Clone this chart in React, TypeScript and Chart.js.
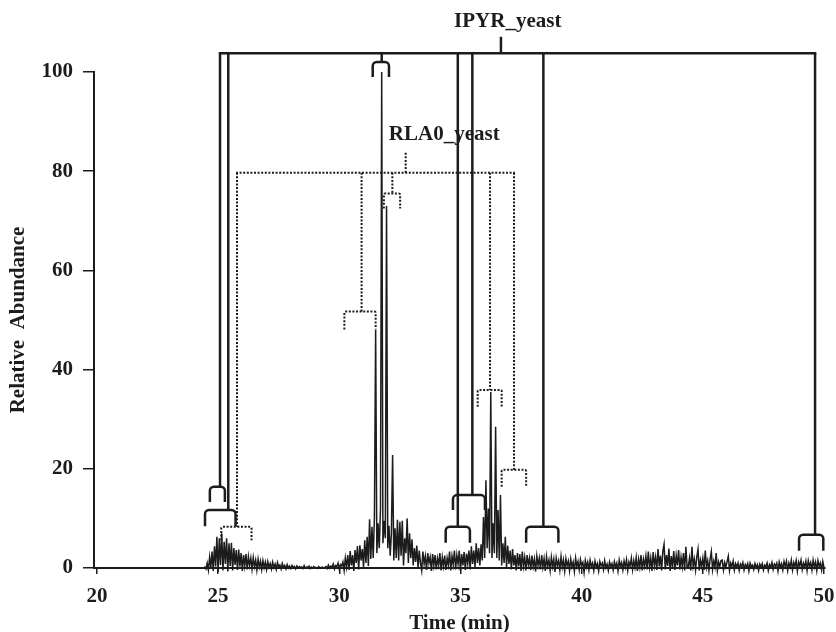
import { useEffect, useRef } from "react";
import { Chart, registerables } from "chart.js";

Chart.register(...registerables);

// ---------- axis ticks ----------
const timeTicks = [20, 25, 30, 35, 40, 45, 50];
const abundanceTicks = [0, 20, 40, 60, 80, 100];

// ---------- chromatogram trace ----------
// flat baseline before elution
const leadTimes = [20, 24.35];
const leadValues = [0, 0];
// sampled trace, one value every 0.05 min starting at 24.40 min (one row = 1 min)
const traceStart = 24.4;
const sampleStep = 0.05;
const abundance = [
  0, 0.2, -0.2, 1.0, -0.4, 2.2, 0.1, 3.3, -0.6, 4.4, 0.3, 6.3, -0.8, 6.0, 0.6, 7.0, -0.5, 5.3, 0.8, 6.0,
  -0.7, 5.0, 0.4, 5.1, -0.5, 4.0, 0.6, 3.6, -0.4, 3.7, 0.3, 3.0, -0.6, 2.6, 0.4, 2.8, -0.3, 2.3, 0.5, 2.0,
  -0.2, 2.1, 0.3, 1.6, -0.4, 1.8, 0.2, 1.4, -0.3, 1.5, 0.1, 1.2, -0.3, 1.3, 0.2, 0.9, -0.2, 1.2, 0.1, 0.8,
  -0.3, 1.1, 0.2, 0.6, -0.2, 0.9, 0.1, 0.5, -0.2, 0.7, 0.0, 0.4, -0.1, 0.5, 0.1, 0.3, -0.2, 0.4, 0.0, 0.3,
  0.1, 0.2, -0.1, 0.5, 0.0, 0.2, 0.1, 0.4, -0.1, 0.2, 0.0, 0.3, 0.1, 0.1, -0.1, 0.3, 0.0, 0.1, 0.2, 0.0,
  0.1, 0.3, -0.1, 0.6, 0.0, 0.4, 0.2, 0.8, -0.2, 0.5, 0.3, 1.0, -0.3, 0.7, 0.4, 1.2, -0.5, 2.0, 0.2, 2.6,
  -0.4, 3.4, 0.5, 2.6, -0.6, 3.6, 1.0, 4.4, -0.3, 4.6, 1.5, 3.8, 0.2, 5.6, 1.0, 6.3, 0.4, 9.8, 1.8, 8.3,
  2.0, 10.3, 48.0, 3.0, 9.0, 4.0, 12.0, 100.0, 5.0, 9.5, 6.0, 73.0, 4.0, 8.5, 2.5, 7.0, 22.8, 1.5, 8.0, 2.0,
  9.7, 1.5, 9.3, 2.5, 9.5, 0.5, 6.0, 3.0, 10.0, 1.0, 7.0, 2.0, 5.8, 0.5, 4.0, 1.2, 4.5, 0.0, 3.5, 1.0,
  -0.5, 3.3, 0.8, 2.4, -0.4, 3.0, 1.0, 2.2, -0.6, 2.8, 0.5, 2.6, -0.3, 2.0, 0.6, 3.0, -0.5, 2.2, 0.4, 2.5,
  -0.4, 2.0, 0.6, 3.3, -0.5, 2.4, 0.7, 3.5, -0.3, 2.6, 0.8, 3.5, -0.6, 2.8, 0.5, 3.2, -0.4, 2.9, 0.9, 3.5,
  -0.3, 4.4, 0.8, 3.5, 0.2, 5.0, 1.0, 4.0, 0.5, 4.8, 1.5, 10.3, 2.0, 17.7, 4.0, 12.0, 3.0, 35.5, 2.0, 9.0,
  3.0, 28.5, 2.0, 11.7, 1.5, 14.7, 0.5, 5.0, 1.0, 6.3, 0.0, 4.5, 0.8, 3.5, -0.3, 3.8, 0.5, 2.6, -0.5, 3.0,
  0.3, 2.8, -0.6, 3.3, 0.4, 2.2, -0.5, 2.6, 0.6, 2.0, -0.4, 2.5, 0.3, 1.8, -0.7, 2.4, 0.5, 2.0, -0.3, 2.6,
  0.2, 1.9, -0.6, 2.3, 0.4, 1.6, -0.5, 2.2, 0.3, 1.8, -0.8, 2.0, 0.5, 1.5, -0.4, 2.3, 0.2, 1.6, -0.6, 1.9,
  0.4, 1.4, -0.5, 1.8, 0.2, 1.2, -0.7, 2.0, 0.3, 1.3, -0.4, 1.7, 0.5, 1.1, -0.9, 1.5, 0.2, 1.2, -0.4, 1.6,
  0.3, 1.0, -0.5, 1.4, 0.2, 0.9, -0.6, 1.3, 0.4, 1.0, -0.3, 1.5, 0.1, 0.8, -0.5, 1.2, 0.3, 0.9, -0.4, 1.3,
  0.2, 1.0, -0.6, 1.6, 0.3, 1.1, -0.4, 1.4, 0.2, 1.7, -0.5, 1.2, 0.4, 2.0, -0.3, 1.5, 0.1, 2.1, -0.6, 1.8,
  0.2, 2.6, -0.5, 1.8, 0.4, 2.4, -0.3, 3.3, 0.2, 2.0, -0.6, 3.2, 0.5, 2.2, -0.4, 3.8, 0.3, 2.5, -0.5, 3.4,
  4.8, -0.3, 2.6, 0.4, 3.9, -0.6, 2.4, 0.2, 3.4, -0.4, 2.5, 0.5, 3.6, -0.3, 2.2, 0.3, 3.0, -0.5, 4.3, 0.2,
  0.3, 2.0, -0.5, 4.3, 0.4, 1.8, -0.4, 2.2, 3.8, -0.5, 1.6, 0.3, 2.0, -0.4, 3.5, 0.2, 1.5, -0.5, 1.8, 3.3,
  -0.3, 1.4, 0.2, 3.0, -0.5, 1.2, 0.3, 1.5, 1.6, -0.4, 1.1, 0.2, 1.3, 2.4, -0.5, 1.0, 0.3, 1.4, -0.4, 0.9,
  0.2, 1.0, -0.5, 0.8, 0.3, 1.1, -0.4, 0.7, 0.2, 0.9, -0.6, 1.0, 0.3, 0.6, -0.3, 0.9, 0.1, 0.7, -0.5, 0.8,
  0.2, 0.9, -0.4, 0.6, 0.3, 1.0, -0.5, 0.7, 0.2, 1.1, -0.3, 0.8, 0.4, 1.0, -0.6, 1.2, 0.2, 0.9, -0.4, 1.3,
  0.3, 1.4, -0.5, 1.0, 0.2, 1.6, -0.4, 1.1, 0.3, 1.5, -0.6, 1.2, 0.4, 1.6, -0.3, 1.0, 0.2, 1.4, -0.5, 1.5,
  0.3, 1.1, -0.4, 1.6, 0.2, 1.2, -0.5, 1.5, 0.3, 1.0, -0.4, 1.3, 0.0,
];

// ---------- peptide assignment trees (time in min, height in % abundance) ----------
// IPYR_yeast (solid)
const ipyrName = "IPYR_yeast";
const ipyrLevel = 103.8;
const ipyrLabelStem = [36.67, 107.1]; // time, top
const ipyrLabelAt = [36.95, 109.1]; // time, baseline
const ipyrBrackets = [
  { start: 24.66, end: 25.28, top: 16.4, foot: 13.3, stem: 25.08 },
  { start: 24.46, end: 25.72, top: 11.7, foot: 8.4, stem: 25.42 },
  { start: 31.38, end: 32.05, top: 102.0, foot: 99.0, stem: 31.75 },
  { start: 34.39, end: 35.39, top: 8.3, foot: 5.1, stem: 34.89 },
  { start: 34.69, end: 36.01, top: 14.7, foot: 11.7, stem: 35.49 },
  { start: 37.71, end: 39.04, top: 8.3, foot: 5.1, stem: 38.42 },
  { start: 48.97, end: 49.97, top: 6.7, foot: 3.5, stem: 49.63 },
];
// RLA0_yeast (dotted)
const rla0Name = "RLA0_yeast";
const rla0Level = 79.7;
const rla0LabelStem = [32.74, 83.7];
const rla0LabelAt = [34.33, 86.3];
const rla0Brackets = [
  { start: 25.13, end: 26.38, top: 8.3, foot: 5.6, stem: 25.78 },
  { start: 30.21, end: 31.5, top: 51.7, foot: 48.1, stem: 30.92 },
  { start: 31.84, end: 32.51, top: 75.5, foot: 72.5, stem: 32.19 },
  { start: 35.71, end: 36.7, top: 35.9, foot: 32.5, stem: 36.22 },
  { start: 36.7, end: 37.71, top: 19.8, foot: 16.4, stem: 37.21 },
];

const FONT = "'Liberation Serif', 'Times New Roman', Times, serif";
const INK = "#1c1c1c";

const trees = [
  { name: ipyrName, level: ipyrLevel, labelStem: ipyrLabelStem, labelAt: ipyrLabelAt, brackets: ipyrBrackets, dotted: false },
  { name: rla0Name, level: rla0Level, labelStem: rla0LabelStem, labelAt: rla0LabelAt, brackets: rla0Brackets, dotted: true },
];

const treePlugin = {
  id: "peptideTrees",
  afterDatasetsDraw(chart: any) {
    const { ctx } = chart;
    const xs = chart.scales.x;
    const ys = chart.scales.y;
    const px = (t: number) => xs.getPixelForValue(t);
    const py = (v: number) => ys.getPixelForValue(v);
    ctx.save();
    // labels first (lines are drawn over them)
    ctx.font = `bold 21px ${FONT}`;
    ctx.fillStyle = INK;
    ctx.textAlign = "center";
    ctx.textBaseline = "alphabetic";
    trees.forEach((tree) => {
      ctx.fillText(tree.name, px(tree.labelAt[0]), py(tree.labelAt[1]));
    });
    trees.forEach((tree) => {
      ctx.strokeStyle = INK;
      ctx.lineWidth = tree.dotted ? 2 : 2.5;
      ctx.setLineDash(tree.dotted ? [2, 1.6] : []);
      ctx.lineJoin = "miter";
      ctx.lineCap = "butt";
      const stems = tree.brackets.map((b) => b.stem);
      const barY = py(tree.level);
      const half = ctx.lineWidth / 2;
      ctx.beginPath();
      ctx.moveTo(px(Math.min(...stems)) - half, barY);
      ctx.lineTo(px(Math.max(...stems)) + half, barY);
      ctx.stroke();
      ctx.beginPath();
      ctx.moveTo(px(tree.labelStem[0]), barY);
      ctx.lineTo(px(tree.labelStem[0]), py(tree.labelStem[1]));
      ctx.stroke();
      tree.brackets.forEach((b) => {
        const sx = px(b.stem);
        const top = py(b.top);
        const foot = py(b.foot);
        const x1 = px(b.start);
        const x2 = px(b.end);
        ctx.beginPath();
        ctx.moveTo(sx, barY);
        ctx.lineTo(sx, top);
        ctx.stroke();
        const r = tree.dotted ? 1.2 : 4;
        ctx.beginPath();
        ctx.moveTo(x1, foot);
        ctx.lineTo(x1, top + r);
        ctx.arcTo(x1, top, x1 + r, top, r);
        ctx.lineTo(x2 - r, top);
        ctx.arcTo(x2, top, x2, top + r, r);
        ctx.lineTo(x2, foot);
        ctx.stroke();
      });
    });
    ctx.restore();
  },
};

export default function App() {
  const canvasRef = useRef<HTMLCanvasElement | null>(null);

  useEffect(() => {
    if (!canvasRef.current) return;
    const points = [
      ...leadTimes.map((t, i) => ({ x: t, y: leadValues[i] })),
      ...abundance.map((v, i) => ({ x: +(traceStart + i * sampleStep).toFixed(2), y: v })),
    ];
    const tickFont = { family: FONT, size: 21, weight: "bold" as const };
    const chart = new Chart(canvasRef.current, {
      type: "line",
      data: {
        datasets: [
          {
            data: points,
            borderColor: INK,
            borderWidth: 1.5,
            pointRadius: 0,
            tension: 0,
            fill: false,
            clip: false as any,
          },
        ],
      },
      options: {
        animation: false,
        responsive: false,
        devicePixelRatio: 1,
        layout: { padding: { top: 72, right: 11, left: 0, bottom: 0 } },
        plugins: { legend: { display: false }, tooltip: { enabled: false } },
        scales: {
          x: {
            type: "linear",
            min: 19.88,
            max: 50.04,
            afterBuildTicks: (s: any) => {
              s.ticks = timeTicks.map((v) => ({ value: v }));
            },
            afterFit: (s: any) => {
              s.height = 64;
              s.paddingLeft = 0;
              s.paddingRight = 0;
            },
            grid: { display: true, drawOnChartArea: false, drawTicks: true, tickLength: 6, color: INK, lineWidth: 1.5 },
            border: { display: true, color: INK, width: 2 },
            ticks: { font: tickFont, color: INK, padding: 10, maxRotation: 0, autoSkip: false },
            title: {
              display: true,
              text: "Time (min)",
              color: INK,
              font: { family: FONT, size: 21, weight: "bold", lineHeight: 1 },
              padding: { top: 0, bottom: -2 },
            },
          },
          y: {
            type: "linear",
            min: 0,
            max: 100,
            afterBuildTicks: (s: any) => {
              s.ticks = abundanceTicks.map((v) => ({ value: v }));
            },
            afterFit: (s: any) => {
              s.width = 94;
              s.paddingTop = 0;
              s.paddingBottom = 0;
            },
            grid: { display: true, drawOnChartArea: false, drawTicks: true, tickLength: 11, color: INK, lineWidth: 1.5 },
            border: { display: true, color: INK, width: 2 },
            ticks: { font: tickFont, color: INK, padding: 10 },
            title: {
              display: true,
              text: "Relative  Abundance",
              color: INK,
              font: { family: FONT, size: 21, weight: "bold", lineHeight: 1 },
              padding: { top: 8.5, bottom: 0 },
            },
          },
        },
      },
      plugins: [treePlugin],
    });
    return () => chart.destroy();
  }, []);

  return (
    <div style={{ position: "fixed", left: 0, top: 0, width: 836, height: 632, background: "#fff" }}>
      <canvas ref={canvasRef} width={836} height={632} style={{ display: "block" }} />
    </div>
  );
}
